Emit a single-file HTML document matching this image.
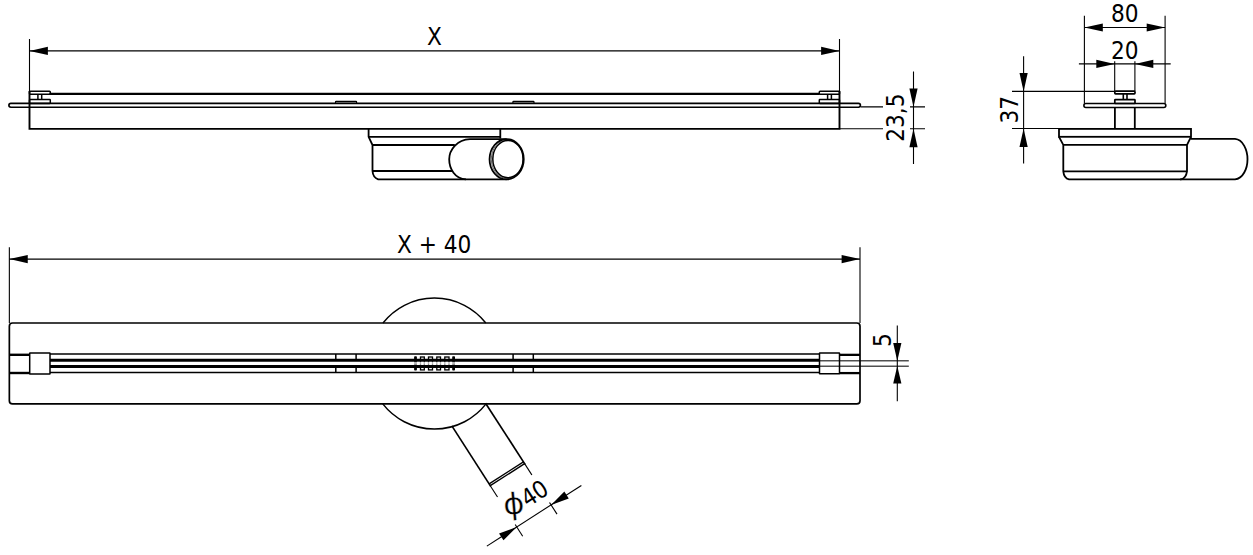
<!DOCTYPE html>
<html lang="en">
<head>
<meta charset="utf-8">
<title>Linear drain technical drawing</title>
<style>
html,body{margin:0;padding:0;background:#fff;}
body{width:1253px;height:555px;overflow:hidden;}
svg{display:block;}
svg text{font-family:'DejaVu Sans Condensed','DejaVu Sans','Liberation Sans',sans-serif;font-stretch:condensed;fill:#000;}
</style>
</head>
<body>
<svg width="1253" height="555" viewBox="0 0 1253 555">
<rect x="0" y="0" width="1253" height="555" fill="#fff"/>
<line x1="29.50" y1="39.00" x2="29.50" y2="92.00" stroke="#000" stroke-width="1.1" />
<line x1="839.50" y1="39.00" x2="839.50" y2="92.00" stroke="#000" stroke-width="1.1" />
<line x1="29.50" y1="50.90" x2="839.50" y2="50.90" stroke="#000" stroke-width="1.1" />
<polygon points="29.50,50.90 47.90,55.00 47.90,46.80" fill="#000"/>
<polygon points="839.50,50.90 821.10,46.80 821.10,55.00" fill="#000"/>
<text x="434.50" y="44.60" font-size="24.1" text-anchor="middle" >X</text>
<line x1="49.50" y1="93.85" x2="819.50" y2="93.85" stroke="#000" stroke-width="2.1" />
<rect x="29.50" y="91.30" width="20.80" height="2.90" rx="0.8" fill="none" stroke="#000" stroke-width="1.5"/>
<rect x="29.50" y="99.60" width="20.80" height="3.80" rx="0.6" fill="none" stroke="#000" stroke-width="1.5"/>
<line x1="37.90" y1="94.00" x2="37.90" y2="99.60" stroke="#000" stroke-width="1.5" />
<line x1="41.70" y1="94.00" x2="41.70" y2="99.60" stroke="#000" stroke-width="1.5" />
<rect x="819.30" y="91.30" width="20.20" height="2.90" rx="0.8" fill="none" stroke="#000" stroke-width="1.5"/>
<rect x="819.30" y="99.60" width="20.20" height="3.80" rx="0.6" fill="none" stroke="#000" stroke-width="1.5"/>
<line x1="827.60" y1="94.00" x2="827.60" y2="99.60" stroke="#000" stroke-width="1.5" />
<line x1="831.40" y1="94.00" x2="831.40" y2="99.60" stroke="#000" stroke-width="1.5" />
<rect x="8.90" y="103.35" width="851.50" height="3.85" rx="2" fill="none" stroke="#000" stroke-width="1.65"/>
<path d="M29.5,91 V128.85 H839.5 V91" fill="none" stroke="#000" stroke-width="1.9" />
<rect x="335.50" y="101.30" width="21.10" height="2.10" rx="0.6" fill="none" stroke="#000" stroke-width="1.2"/>
<rect x="512.90" y="101.30" width="21.10" height="2.10" rx="0.6" fill="none" stroke="#000" stroke-width="1.2"/>
<path d="M368.6,128.85 V136.9 L372.5,145.0 V171.0 Q373,177.6 378.2,179.4 H466" fill="none" stroke="#000" stroke-width="1.8" />
<line x1="368.60" y1="136.90" x2="500.30" y2="136.90" stroke="#000" stroke-width="1.8" />
<line x1="500.30" y1="128.50" x2="500.30" y2="138.50" stroke="#000" stroke-width="1.8" />
<line x1="372.50" y1="145.00" x2="454.80" y2="145.00" stroke="#000" stroke-width="1.8" />
<line x1="372.50" y1="171.00" x2="452.80" y2="171.00" stroke="#000" stroke-width="1.8" />
<path d="M506.6,139.15 H470 C457,139.6 449.2,149.8 449.2,159.3 C449.2,168.8 455,178.8 466,179.4 H506.6" fill="none" stroke="#000" stroke-width="1.8" />
<ellipse cx="506.65" cy="159.25" rx="17.1" ry="20.1" fill="#fff" stroke="#000" stroke-width="1.8"/>
<ellipse cx="507.3" cy="159.15" rx="16.0" ry="19.4" fill="none" stroke="#000" stroke-width="0.6"/>
<ellipse cx="507.95" cy="159.05" rx="15.15" ry="18.6" fill="none" stroke="#000" stroke-width="1.5"/>
<line x1="860.60" y1="106.90" x2="925.00" y2="106.90" stroke="#000" stroke-width="1.1" />
<line x1="839.50" y1="128.75" x2="925.00" y2="128.75" stroke="#000" stroke-width="1.1" />
<rect x="883.0" y="93" width="27.0" height="50" fill="#fff"/>
<line x1="913.50" y1="71.50" x2="913.50" y2="164.00" stroke="#000" stroke-width="1.1" />
<polygon points="913.50,106.90 917.60,88.50 909.40,88.50" fill="#000"/>
<polygon points="913.50,128.75 909.40,147.15 917.60,147.15" fill="#000"/>
<text x="903.60" y="117.60" font-size="24.1" text-anchor="middle" transform="rotate(-90 903.60 117.60)" >23,5</text>
<line x1="1084.40" y1="15.80" x2="1084.40" y2="103.40" stroke="#000" stroke-width="1.1" />
<line x1="1165.10" y1="15.80" x2="1165.10" y2="103.40" stroke="#000" stroke-width="1.1" />
<line x1="1084.40" y1="27.50" x2="1165.10" y2="27.50" stroke="#000" stroke-width="1.1" />
<polygon points="1084.40,27.50 1102.80,31.60 1102.80,23.40" fill="#000"/>
<polygon points="1165.10,27.50 1146.70,23.40 1146.70,31.60" fill="#000"/>
<text x="1124.70" y="21.90" font-size="24.1" text-anchor="middle" >80</text>
<line x1="1114.70" y1="61.20" x2="1114.70" y2="91.00" stroke="#000" stroke-width="1.1" />
<line x1="1134.90" y1="61.20" x2="1134.90" y2="91.00" stroke="#000" stroke-width="1.1" />
<line x1="1078.90" y1="63.90" x2="1170.70" y2="63.90" stroke="#000" stroke-width="1.1" />
<polygon points="1114.70,63.90 1096.30,59.80 1096.30,68.00" fill="#000"/>
<polygon points="1134.90,63.90 1153.30,68.00 1153.30,59.80" fill="#000"/>
<text x="1124.80" y="58.90" font-size="24.1" text-anchor="middle" >20</text>
<rect x="1114.80" y="91.20" width="20.20" height="2.60" rx="0.8" fill="none" stroke="#000" stroke-width="1.7"/>
<rect x="1114.80" y="99.70" width="20.20" height="3.80" rx="0.6" fill="none" stroke="#000" stroke-width="1.7"/>
<line x1="1123.30" y1="94.00" x2="1123.30" y2="99.60" stroke="#000" stroke-width="1.6" />
<line x1="1127.00" y1="94.00" x2="1127.00" y2="99.60" stroke="#000" stroke-width="1.6" />
<rect x="1083.90" y="103.50" width="81.90" height="4.00" rx="2" fill="none" stroke="#000" stroke-width="1.6"/>
<line x1="1114.90" y1="107.40" x2="1114.90" y2="128.80" stroke="#000" stroke-width="1.8" />
<line x1="1134.80" y1="107.40" x2="1134.80" y2="128.80" stroke="#000" stroke-width="1.8" />
<rect x="1059.00" y="128.90" width="132.00" height="7.90" rx="0" fill="none" stroke="#000" stroke-width="1.8"/>
<path d="M1059,136.8 L1063.3,144.9 V171.3 Q1064,178.2 1069,179.4 H1181 Q1186,178.2 1187,171.3 V144.9 L1191,136.8" fill="none" stroke="#000" stroke-width="1.8" />
<line x1="1063.30" y1="144.90" x2="1187.00" y2="144.90" stroke="#000" stroke-width="1.8" />
<line x1="1063.30" y1="171.30" x2="1187.00" y2="171.30" stroke="#000" stroke-width="1.8" />
<path d="M1190.5,138.9 H1235 C1243,139.5 1247.5,150 1247.5,159.2 C1247.5,168.5 1243,178.8 1235,179.4 H1180" fill="none" stroke="#000" stroke-width="1.8" />
<line x1="1012.00" y1="91.40" x2="1114.80" y2="91.40" stroke="#000" stroke-width="1.1" />
<line x1="1012.00" y1="128.50" x2="1059.00" y2="128.50" stroke="#000" stroke-width="1.1" />
<line x1="1023.60" y1="56.30" x2="1023.60" y2="163.50" stroke="#000" stroke-width="1.1" />
<polygon points="1023.60,91.40 1027.70,73.00 1019.50,73.00" fill="#000"/>
<polygon points="1023.60,128.50 1019.50,146.90 1027.70,146.90" fill="#000"/>
<text x="1017.80" y="109.70" font-size="24.1" text-anchor="middle" transform="rotate(-90 1017.80 109.70)" >37</text>
<line x1="9.35" y1="247.30" x2="9.35" y2="323.00" stroke="#000" stroke-width="1.1" />
<line x1="860.00" y1="247.30" x2="860.00" y2="323.00" stroke="#000" stroke-width="1.1" />
<line x1="9.35" y1="259.10" x2="860.00" y2="259.10" stroke="#000" stroke-width="1.1" />
<polygon points="9.35,259.10 27.75,263.20 27.75,255.00" fill="#000"/>
<polygon points="860.00,259.10 841.60,255.00 841.60,263.20" fill="#000"/>
<text x="434.20" y="252.70" font-size="24.1" text-anchor="middle" >X + 40</text>
<path d="M383.00,323.0 A65.5,65.5 0 0 1 485.80,323.0" fill="none" stroke="#000" stroke-width="1.5" />
<path d="M382.77,403.9 A65.5,65.5 0 0 0 486.03,403.9" fill="none" stroke="#000" stroke-width="1.5" />
<line x1="486.03" y1="403.90" x2="524.60" y2="463.65" stroke="#000" stroke-width="1.7" stroke-linecap="square"/>
<line x1="452.33" y1="426.60" x2="490.27" y2="485.69" stroke="#000" stroke-width="1.7" stroke-linecap="square"/>
<line x1="490.27" y1="485.69" x2="524.60" y2="463.65" stroke="#000" stroke-width="1.4" />
<line x1="489.13" y1="483.92" x2="523.47" y2="461.88" stroke="#000" stroke-width="1.3" />
<line x1="490.27" y1="485.69" x2="522.68" y2="536.18" stroke="#000" stroke-width="1.1" />
<line x1="524.60" y1="463.65" x2="557.01" y2="514.14" stroke="#000" stroke-width="1.1" />
<line x1="486.86" y1="546.10" x2="581.37" y2="485.44" stroke="#000" stroke-width="1.1" />
<line x1="820.00" y1="360.80" x2="908.80" y2="360.80" stroke="#505050" stroke-width="1.4" />
<line x1="820.00" y1="366.30" x2="908.80" y2="366.30" stroke="#505050" stroke-width="1.4" />
<rect x="9.35" y="323.00" width="850.65" height="80.90" rx="3.2" fill="none" stroke="#000" stroke-width="1.7"/>
<line x1="9.35" y1="354.80" x2="29.70" y2="354.80" stroke="#000" stroke-width="2.4" />
<line x1="9.35" y1="373.00" x2="29.70" y2="373.00" stroke="#000" stroke-width="2.4" />
<line x1="839.50" y1="354.85" x2="860.00" y2="354.85" stroke="#000" stroke-width="2.3" />
<line x1="839.50" y1="373.10" x2="860.00" y2="373.10" stroke="#000" stroke-width="2.3" />
<line x1="50.00" y1="354.00" x2="819.50" y2="354.00" stroke="#000" stroke-width="1.5" />
<line x1="50.00" y1="372.50" x2="819.50" y2="372.50" stroke="#000" stroke-width="1.5" />
<line x1="50.00" y1="360.25" x2="819.50" y2="360.25" stroke="#000" stroke-width="2.9" />
<line x1="50.00" y1="366.45" x2="819.50" y2="366.45" stroke="#000" stroke-width="2.9" />
<rect x="29.70" y="353.10" width="20.30" height="20.90" rx="0.3" fill="#fff" stroke="#000" stroke-width="1.5"/>
<line x1="335.80" y1="354.00" x2="335.80" y2="360.20" stroke="#000" stroke-width="1.5" />
<line x1="335.80" y1="366.50" x2="335.80" y2="372.40" stroke="#000" stroke-width="1.5" />
<line x1="356.10" y1="354.00" x2="356.10" y2="360.20" stroke="#000" stroke-width="1.5" />
<line x1="356.10" y1="366.50" x2="356.10" y2="372.40" stroke="#000" stroke-width="1.5" />
<line x1="513.10" y1="354.00" x2="513.10" y2="360.20" stroke="#000" stroke-width="1.5" />
<line x1="513.10" y1="366.50" x2="513.10" y2="372.40" stroke="#000" stroke-width="1.5" />
<line x1="533.30" y1="354.00" x2="533.30" y2="360.20" stroke="#000" stroke-width="1.5" />
<line x1="533.30" y1="366.50" x2="533.30" y2="372.40" stroke="#000" stroke-width="1.5" />
<rect x="414.10" y="356.30" width="2.80" height="14.30" rx="0.8" fill="#000" stroke="none" stroke-width="0"/>
<rect x="452.20" y="356.30" width="2.80" height="14.30" rx="0.8" fill="#000" stroke="none" stroke-width="0"/>
<rect x="420.50" y="357.00" width="3.80" height="12.90" rx="0" fill="none" stroke="#000" stroke-width="1.3"/>
<rect x="428.50" y="357.00" width="4.00" height="12.90" rx="0" fill="none" stroke="#000" stroke-width="1.3"/>
<rect x="436.80" y="357.00" width="3.70" height="12.90" rx="0" fill="none" stroke="#000" stroke-width="1.3"/>
<rect x="444.80" y="357.00" width="4.20" height="12.90" rx="0" fill="none" stroke="#000" stroke-width="1.3"/>
<rect x="413.5" y="361.9" width="42" height="2.9" fill="#fff" opacity="0.7"/>
<rect x="819.50" y="353.10" width="20.00" height="20.70" rx="0.3" fill="none" stroke="#000" stroke-width="1.5"/>
<line x1="897.30" y1="325.50" x2="897.30" y2="401.20" stroke="#000" stroke-width="1.1" />
<polygon points="897.30,361.00 901.40,343.00 893.20,343.00" fill="#000"/>
<polygon points="897.30,366.00 893.20,383.60 901.40,383.60" fill="#000"/>
<text x="891.30" y="340.20" font-size="24.1" text-anchor="middle" transform="rotate(-90 891.30 340.20)" >5</text>
<g transform="translate(525.3,497.8) rotate(-32.70)"><rect x="-27.5" y="-15.7" width="50" height="32.7" fill="#fff"/></g>
<g transform="translate(513.9,505.9) rotate(-5.2) scale(1.08,1)"><text x="0" y="8.1" font-size="30" text-anchor="middle" stroke="#fff" stroke-width="0.4" style="font-family:'DejaVu Sans','Liberation Sans',sans-serif;font-stretch:normal">ϕ</text></g>
<g transform="translate(539.3,489.8) rotate(-32.70)"><text x="6.9" y="8.8" font-size="24.1" text-anchor="end" letter-spacing="-0.6">40</text></g>
<polygon points="516.74,526.93 499.04,533.42 503.47,540.32" fill="#000"/>
<polygon points="551.07,504.88 568.77,498.39 564.34,491.49" fill="#000"/>
</svg>
</body>
</html>
